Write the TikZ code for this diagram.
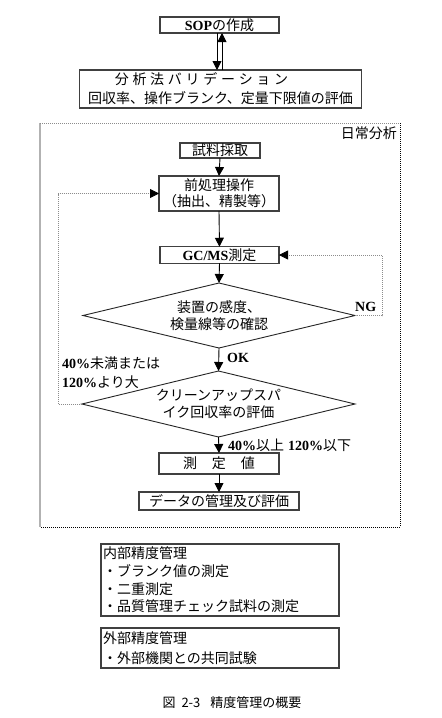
\documentclass[tikz,border=0pt]{standalone}
\usepackage{fontspec}
\setmainfont{Noto Sans CJK JP}
\newfontfamily\latfont{Liberation Serif}
\usetikzlibrary{arrows.meta,shapes.geometric}
\newcommand\B[1]{{\latfont\bfseries #1}}
\newlength\cellw
\def\spaced#1#2{\setlength\cellw{#1}\spacedA#2\relax}
\def\spacedA#1{\ifx#1\relax\else\makebox[\cellw]{#1}\expandafter\spacedA\fi}
\begin{document}
\begin{tikzpicture}[x=1pt,y=-1pt,
  box/.style={draw=black!75, line width=1.2pt, rectangle, inner sep=0pt, outer sep=0pt,
    font=\fontsize{14}{17}\selectfont, align=center},
  dia/.style={draw=black!85, line width=0.9pt, diamond, aspect=4.2, inner sep=0pt, outer sep=0pt,
    minimum width=272pt, minimum height=65pt, font=\fontsize{14}{17}\selectfont, align=center},
  arr/.style={draw=black, line width=0.9pt, -{Triangle[length=9pt,width=9pt]}},
  loopline/.style={draw=black!45, line width=0.8pt, dash pattern=on 1pt off 1pt,
    -{Triangle[length=9pt,width=9pt,color=black]}},
  lbl/.style={font=\fontsize{14}{17}\selectfont, inner sep=0pt},
  framesolid/.style={draw=black!30, line width=1.6pt},
  framedot/.style={line width=0.8pt, dash pattern=on 1pt off 1pt}
]
\useasboundingbox (0,0) rectangle (442,718);
\fill[white] (0,0) rectangle (442,718);

% top part
\node[box, minimum width=119pt, minimum height=16pt] (sop) at (219.5,25) {\B{SOP}の作成};
\node[box, minimum width=282pt, minimum height=38pt, font=\fontsize{14}{19}\selectfont] (val) at (220.5,89)
  {\spaced{17.7pt}{分析法バリデーション}\makebox[38pt]{}\\回収率、操作ブランク、定量下限値の評価};
\draw[arr] ([xshift=-2.5pt]sop.south) -- ([xshift=-2.5pt]sop.south |- val.north);
\draw[arr] ([xshift=2.5pt]sop.south |- val.north) -- ([xshift=2.5pt]sop.south);

% routine analysis frame
\coordinate (fTL) at (40,123);
\coordinate (fTR) at (400,123);
\coordinate (fBR) at (400,527);
\coordinate (fBL) at (40,527);
\draw[framesolid] (fTL) -- (fBL);
\draw[framedot, draw=black!45] (fTL) -- (fTR);
\draw[framedot, draw=black] (fTR) -- (fBR) -- (fBL);
\node[lbl, anchor=east] (nichijo) at (397,133) {日常分析};

\node[box, minimum width=80pt, minimum height=15pt] (samp) at (220,150.5) {試料採取};
\node[box, minimum width=120pt, minimum height=35pt, font=\fontsize{14}{16.5}\selectfont] (prep) at (219,193.5)
  {前処理操作\\（抽出、精製等）};
\node[box, minimum width=119pt, minimum height=16.5pt] (gc) at (219.5,255) {\B{GC/MS}測定};
\node[dia] (d1) at (219,315.5) {装置の感度、\\検量線等の確認};
\node[dia, minimum width=273pt, minimum height=66pt] (d2) at (218.5,404) {クリーンアップスパ\\イク回収率の評価};
\node[box, minimum width=120pt, minimum height=21pt] (meas) at (219,463.5) {測\hspace{15pt}定\hspace{15pt}値};
\node[box, minimum width=160pt, minimum height=18pt] (data) at (219,501) {データの管理及び評価};

\draw[arr] (samp.south) -- (prep.north);
\draw[arr] (prep.south) -- (gc.north);
\draw[arr] (gc.south) -- (d1.north);
\draw[arr] (d1.south) -- (d2.north);
\draw[arr] (d2.south) -- (meas.north);
\draw[arr] (meas.south) -- (data.north);

\draw[loopline] (d1.east) -- ++(27,0) |- (gc.east);
\draw[loopline] (d2.west) -- ++(-24,0) |- (prep.west);

\node[lbl, anchor=west] (ok) at (227,358) {\B{OK}};
\node[lbl, anchor=west] (ng) at (355,307) {\B{NG}};
\node[lbl, anchor=west] (pass) at (228,445) {\B{40\%}以上\hspace{4pt}\B{120\%}以下};
\node[lbl, anchor=west, align=left, font=\fontsize{14}{19}\selectfont] (fail) at (62,372.5)
  {\B{40\%}未満または\\\B{120\%}より大};

% quality control boxes
\node[box, anchor=north west, minimum width=238pt, minimum height=72pt, align=left, text width=234pt,
  inner xsep=2pt, font=\fontsize{14}{17.7}\selectfont] (naibu) at (101,544)
  {内部精度管理\\・ブランク値の測定\\・二重測定\\・品質管理チェック試料の測定};
\node[box, anchor=north west, minimum width=238pt, minimum height=40pt, align=left, text width=234pt,
  inner xsep=2pt, font=\fontsize{14}{20}\selectfont] (gaibu) at (101,628)
  {外部精度管理\\・外部機関との共同試験};

\node[font=\fontsize{13}{15}\selectfont, inner sep=0pt] (cap) at (232,703)
  {図\hspace{6pt}2-3\hspace{10pt}精度管理の概要};
\end{tikzpicture}
\end{document}
